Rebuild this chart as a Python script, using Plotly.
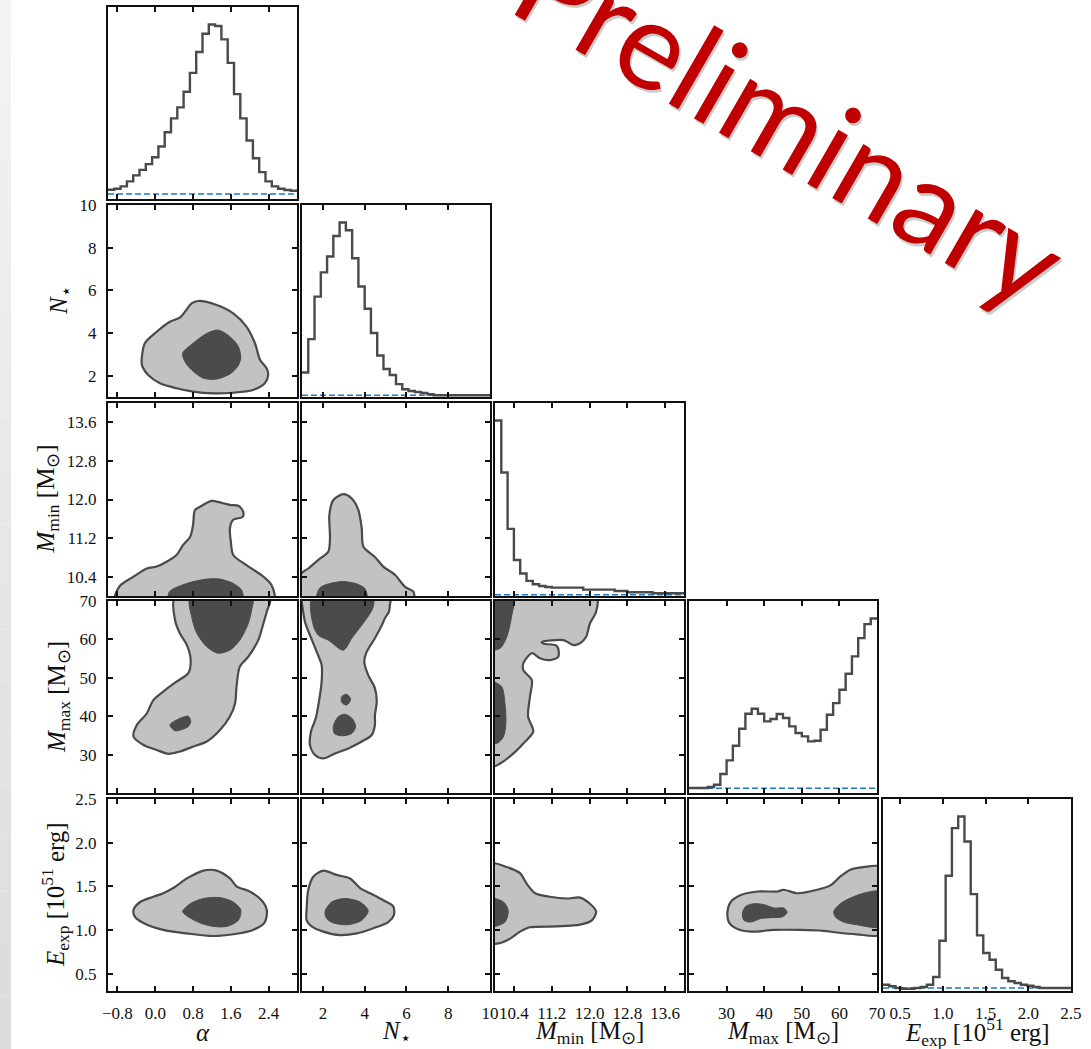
import plotly.graph_objects as go

W, H = 1091, 1049
SERIF = "Liberation Serif"

# ---------------- data ----------------
var_names = ["alpha", "nstar", "mmin", "mmax", "eexp"]
x_titles = ["<i>α</i>", "<i>N</i><sub>⋆</sub>", "<i>M</i><sub>min</sub> [M<sub>⊙</sub>]",
            "<i>M</i><sub>max</sub> [M<sub>⊙</sub>]", "<i>E</i><sub>exp</sub> [10<sup>51</sup> erg]"]

range_alpha = [-1.0, 3.0]
range_nstar = [1.0, 10.0001]
range_mmin = [10.0, 14.0]
range_mmax = [20.0, 70.0001]
range_eexp = [0.3, 2.5001]

ticks_alpha = [-0.8, 0.0, 0.8, 1.6, 2.4]
ticktext_alpha = ["−0.8", "0.0", "0.8", "1.6", "2.4"]
ticks_nstar = [2, 4, 6, 8, 10]
ticktext_nstar = ["2", "4", "6", "8", "10"]
ticks_mmin = [10.4, 11.2, 12.0, 12.8, 13.6]
ticktext_mmin = ["10.4", "11.2", "12.0", "12.8", "13.6"]
ticks_mmax = [30, 40, 50, 60, 70]
ticktext_mmax = ["30", "40", "50", "60", "70"]
ticks_eexp = [0.5, 1.0, 1.5, 2.0, 2.5]
ticktext_eexp = ["0.5", "1.0", "1.5", "2.0", "2.5"]

# marginal posteriors (30 bins each, arbitrary density units)
hist_alpha = [9.3, 10.3, 12.7, 17.7, 23.7, 29.3, 35.0, 42.0, 52.7, 67.0, 81.0, 92.0, 107.7, 126.7, 147.7,
              166.0, 175.3, 173.7, 160.3, 136.7, 105.3, 81.0, 58.7, 41.0, 27.0, 17.7, 12.7, 10.3, 9.0, 8.3]
hist_nstar = [24.3, 57.3, 99.3, 123.3, 139.0, 159.3, 172.7, 165.0, 137.3, 109.3, 87.3, 63.3, 41.0, 27.7, 21.7,
              12.7, 7.7, 6.0, 5.0, 4.0, 2.7, 1.7, 1.7, 1.7, 1.7, 1.7, 1.7, 1.7, 1.7, 1.7]
hist_mmin = [174.3, 122.7, 66.7, 35.7, 22.3, 15.0, 11.7, 10.0, 9.0, 8.3, 8.3, 8.3, 8.3, 8.3, 6.3,
             6.3, 6.3, 6.3, 6.3, 5.0, 5.0, 3.7, 3.7, 3.7, 3.7, 2.7, 2.7, 2.7, 2.7, 2.7]
hist_mmax = [5.0, 5.0, 5.0, 6.0, 8.3, 19.0, 32.7, 47.3, 64.3, 79.3, 84.3, 79.3, 71.7, 74.0, 79.0,
             75.0, 66.7, 60.0, 56.7, 51.7, 52.3, 63.3, 78.3, 90.0, 103.3, 119.3, 136.7, 155.0, 169.0, 174.7]
hist_eexp = [6.3, 4.7, 3.0, 2.3, 2.3, 3.0, 4.0, 6.3, 14.0, 50.3, 115.3, 163.0, 174.7, 149.7, 97.0,
             55.7, 38.0, 31.3, 21.3, 13.0, 9.7, 8.0, 6.3, 5.3, 4.0, 3.0, 3.0, 3.0, 3.0, 3.0]

# priors (same units)
prior_alpha = 5.0
prior_nstar = 1.7
prior_mmin = 1.3
prior_mmax = 4.7
prior_eexp = 3.0

# 2D credible regions: outer (light) and inner (dark) contours, in data units
c21_outer_x = [-0.29, -0.22, 0.03, 0.31, 0.52, 0.63, 0.77, 0.91, 1.30, 1.65, 1.93, 2.11, 2.22, 2.36, 2.39, 2.32,
               2.07, 1.65, 1.23, 0.80, 0.45, 0.10, -0.15, -0.27]
c21_outer_y = [2.65, 3.52, 4.06, 4.53, 4.72, 5.00, 5.39, 5.50, 5.31, 4.92, 4.30, 3.52, 2.73, 2.34, 2.03, 1.64,
               1.33, 1.20, 1.17, 1.25, 1.41, 1.64, 2.03, 2.42]
c21_inner_x = [0.58, 0.80, 1.09, 1.33, 1.58, 1.76, 1.81, 1.74, 1.58, 1.30, 1.02, 0.77, 0.63]
c21_inner_y = [3.05, 3.52, 3.98, 4.14, 3.83, 3.36, 2.81, 2.42, 2.08, 1.84, 1.88, 2.27, 2.65]

c31_outer_x = [-0.85, -0.75, -0.46, -0.18, 0.03, 0.24, 0.45, 0.59, 0.74, 0.80, 0.84, 0.95, 1.19, 1.37, 1.58,
               1.76, 1.86, 1.85, 1.65, 1.58, 1.60, 1.65, 1.93, 2.29, 2.46, 2.51]
c31_outer_y = [9.9, 10.21, 10.40, 10.57, 10.61, 10.71, 10.85, 11.06, 11.23, 11.47, 11.78, 11.85, 11.97, 11.94,
               11.89, 11.87, 11.75, 11.64, 11.58, 11.40, 11.13, 10.85, 10.64, 10.40, 10.23, 9.9]
c31_inner_x = [0.29, 0.30, 0.67, 1.09, 1.37, 1.65, 1.83, 1.84]
c31_inner_y = [9.9, 10.09, 10.26, 10.35, 10.35, 10.26, 10.12, 9.9]

c41_outer_x = [0.42, 0.42, 0.52, 0.67, 0.75, 0.70, 0.45, 0.21, -0.04, -0.18, -0.39, -0.46, -0.25, 0.03, 0.28,
               0.52, 0.81, 1.09, 1.37, 1.58, 1.69, 1.72, 1.79, 1.97, 2.18, 2.29, 2.36, 2.43]
c41_outer_y = [71.0, 65.0, 61.6, 58.5, 54.6, 51.2, 49.0, 46.8, 44.2, 40.7, 37.7, 34.7, 32.5, 31.2, 30.2,
               30.8, 32.1, 33.4, 36.4, 39.9, 43.4, 47.7, 52.9, 55.5, 59.8, 64.2, 67.2, 71.0]
c41_inner1_x = [0.74, 0.77, 0.88, 1.09, 1.33, 1.58, 1.79, 1.97, 2.04, 2.06]
c41_inner1_y = [71.0, 65.9, 61.6, 58.1, 56.4, 57.2, 59.8, 64.2, 67.7, 71.0]
c41_inner2_x = [0.31, 0.42, 0.70, 0.75, 0.70, 0.42]
c41_inner2_y = [37.7, 38.8, 40.0, 38.6, 37.3, 36.2]

c51_outer_x = [-0.46, -0.32, -0.04, 0.17, 0.38, 0.67, 1.02, 1.30, 1.58, 1.72, 2.00, 2.25, 2.36, 2.32, 2.07,
               1.65, 1.23, 0.67, 0.17, -0.25, -0.43]
c51_outer_y = [1.23, 1.32, 1.38, 1.42, 1.48, 1.59, 1.68, 1.68, 1.59, 1.50, 1.44, 1.34, 1.23, 1.09, 1.00,
               0.95, 0.93, 0.96, 1.00, 1.08, 1.15]
c51_inner_x = [0.58, 0.74, 1.02, 1.37, 1.65, 1.81, 1.76, 1.51, 1.23, 0.95, 0.70]
c51_inner_y = [1.21, 1.30, 1.36, 1.37, 1.32, 1.23, 1.11, 1.04, 1.04, 1.08, 1.15]

c32_outer_x = [0.9, 1.30, 1.78, 2.26, 2.34, 2.31, 2.50, 2.98, 3.38, 3.70, 3.86, 3.94, 4.49, 4.89, 5.45, 5.93,
               6.33, 6.33, 0.9]
c32_outer_y = [10.44, 10.57, 10.75, 10.92, 11.20, 11.68, 11.99, 12.11, 12.02, 11.78, 11.40, 11.02, 10.81,
               10.61, 10.44, 10.19, 10.09, 9.9, 9.9]
c32_inner_x = [1.70, 1.86, 2.26, 2.98, 3.62, 4.02, 4.10]
c32_inner_y = [9.9, 10.17, 10.25, 10.30, 10.25, 10.15, 9.9]

c42_outer_x = [0.9, 0.98, 1.14, 1.38, 1.70, 1.94, 1.94, 1.81, 1.66, 1.43, 1.38, 1.62, 2.02, 2.58, 3.22, 3.86,
               4.34, 4.49, 4.49, 4.58, 4.49, 4.17, 3.98, 4.10, 4.49, 4.82, 4.97, 5.16, 5.21, 5.21]
c42_outer_y = [71.0, 69.8, 64.6, 61.1, 56.8, 53.3, 49.0, 43.8, 39.5, 36.0, 32.5, 29.9, 29.0, 30.3, 31.6, 33.4,
               35.1, 37.7, 40.3, 43.8, 47.3, 50.7, 54.2, 56.8, 60.3, 63.7, 65.5, 67.2, 69.0, 71.0]
c42_inner1_x = [1.49, 1.54, 1.78, 2.26, 2.98, 3.38, 3.86, 4.26, 4.41, 4.41]
c42_inner1_y = [71.0, 63.7, 61.1, 59.8, 57.2, 60.3, 63.7, 66.8, 68.5, 71.0]
c42_inner2_x = [2.90, 3.14, 3.33, 3.14, 2.90]
c42_inner2_y = [45.1, 45.7, 44.4, 42.9, 43.6]
c42_inner3_x = [2.50, 2.74, 3.06, 3.38, 3.57, 3.38, 2.90, 2.55]
c42_inner3_y = [37.3, 39.9, 40.5, 39.5, 37.3, 35.5, 34.9, 35.5]

c52_outer_x = [1.22, 1.30, 1.54, 2.02, 2.66, 3.30, 3.78, 4.26, 4.89, 5.37, 5.40, 5.13, 4.41, 3.62, 2.82, 2.02,
               1.46, 1.22]
c52_outer_y = [1.23, 1.46, 1.61, 1.68, 1.63, 1.59, 1.48, 1.42, 1.34, 1.27, 1.17, 1.09, 1.02, 0.96, 0.94, 0.98,
               1.04, 1.11]
c52_inner_x = [2.10, 2.42, 3.06, 3.78, 4.17, 3.86, 3.22, 2.50, 2.18]
c52_inner_y = [1.21, 1.32, 1.36, 1.32, 1.22, 1.11, 1.06, 1.08, 1.13]

c43_outer_x = [9.9, 12.15, 12.14, 12.01, 11.93, 11.80, 11.66, 11.45, 10.99, 11.02, 11.31, 11.34, 11.16, 10.95,
               10.78, 10.60, 10.60, 10.78, 10.74, 10.70, 10.81, 10.60, 10.39, 10.11, 9.9]
c43_outer_y = [71.0, 71.0, 67.2, 64.2, 60.7, 59.0, 58.5, 59.8, 59.3, 58.9, 58.3, 55.5, 54.6, 55.1,
               56.4, 53.8, 52.0, 49.4, 45.1, 39.9, 36.0, 32.9, 30.3, 27.7, 26.8]
c43_inner1_x = [9.9, 10.39, 10.35, 10.25, 10.11, 9.9]
c43_inner1_y = [71.0, 71.0, 65.9, 60.7, 57.7, 57.4]
c43_inner2_x = [9.9, 10.14, 10.21, 10.23, 10.18, 10.07, 9.9]
c43_inner2_y = [49.0, 47.7, 43.4, 38.1, 34.7, 33.1, 32.9]

c53_outer_x = [9.9, 10.25, 10.53, 10.67, 10.85, 11.16, 11.52, 11.80, 12.01, 12.14, 12.05, 11.80, 11.31, 10.74,
               10.53, 10.32, 10.11, 9.9]
c53_outer_y = [1.76, 1.72, 1.65, 1.53, 1.42, 1.38, 1.36, 1.37, 1.30, 1.21, 1.11, 1.06, 1.04, 1.03,
               0.98, 0.90, 0.85, 0.85]
c53_inner_x = [9.9, 10.18, 10.28, 10.21, 9.9]
c53_inner_y = [1.36, 1.32, 1.22, 1.09, 1.04]

c54_outer_x = [30.2, 31.1, 33.8, 38.2, 43.5, 45.2, 48.8, 54.1, 57.6, 60.2, 62.9, 66.4, 71.0, 71.0, 64.6, 59.3,
               55.8, 49.6, 42.6, 36.4, 32.9, 30.7]
c54_outer_y = [1.19, 1.32, 1.40, 1.44, 1.44, 1.46, 1.42, 1.46, 1.51, 1.61, 1.69, 1.72, 1.72, 0.95, 0.95, 0.97,
               0.99, 1.00, 1.00, 0.98, 1.01, 1.08]
c54_inner1_x = [34.2, 35.1, 37.3, 39.9, 42.6, 45.2, 46.1, 44.8, 41.7, 39.1, 36.4, 34.6]
c54_inner1_y = [1.19, 1.27, 1.30, 1.29, 1.25, 1.25, 1.20, 1.15, 1.14, 1.13, 1.09, 1.11]
c54_inner2_x = [58.5, 60.2, 63.7, 67.3, 71.0, 71.0, 64.6, 61.1, 58.9]
c54_inner2_y = [1.21, 1.30, 1.38, 1.43, 1.44, 1.04, 1.06, 1.09, 1.15]

# ---------------- assembly ----------------
ranges = [range_alpha, range_nstar, range_mmin, range_mmax, range_eexp]
tickv = [ticks_alpha, ticks_nstar, ticks_mmin, ticks_mmax, ticks_eexp]
tickt = [ticktext_alpha, ticktext_nstar, ticktext_mmin, ticktext_mmax, ticktext_eexp]
hists = [hist_alpha, hist_nstar, hist_mmin, hist_mmax, hist_eexp]
priors = [prior_alpha, prior_nstar, prior_mmin, prior_mmax, prior_eexp]
hist_lo = [-1.0, 1.0, 10.0, 20.0, 0.3]
hist_hi = [3.0, 10.0, 14.0, 70.0, 2.5]

contours = {
    (1, 0): ((c21_outer_x, c21_outer_y), [(c21_inner_x, c21_inner_y)]),
    (2, 0): ((c31_outer_x, c31_outer_y), [(c31_inner_x, c31_inner_y)]),
    (3, 0): ((c41_outer_x, c41_outer_y), [(c41_inner1_x, c41_inner1_y), (c41_inner2_x, c41_inner2_y)]),
    (4, 0): ((c51_outer_x, c51_outer_y), [(c51_inner_x, c51_inner_y)]),
    (2, 1): ((c32_outer_x, c32_outer_y), [(c32_inner_x, c32_inner_y)]),
    (3, 1): ((c42_outer_x, c42_outer_y), [(c42_inner1_x, c42_inner1_y), (c42_inner2_x, c42_inner2_y),
                                          (c42_inner3_x, c42_inner3_y)]),
    (4, 1): ((c52_outer_x, c52_outer_y), [(c52_inner_x, c52_inner_y)]),
    (3, 2): ((c43_outer_x, c43_outer_y), [(c43_inner1_x, c43_inner1_y), (c43_inner2_x, c43_inner2_y)]),
    (4, 2): ((c53_outer_x, c53_outer_y), [(c53_inner_x, c53_inner_y)]),
    (4, 3): ((c54_outer_x, c54_outer_y), [(c54_inner1_x, c54_inner1_y), (c54_inner2_x, c54_inner2_y)]),
}

col_x0 = [108, 302, 495, 689, 883]
col_x1 = [297, 490, 684, 877, 1071]
row_y0 = [7, 205, 403, 601, 799]
row_y1 = [199, 397, 596, 793, 991]

LINE = "#4a4a4a"
LIGHT = "#c2c2c2"
DARK = "#4b4b4b"
FRAME = "#111111"
BLUE = "#1f78c1"

fig = go.Figure()
layout = dict(template="none", width=W, height=H, margin=dict(l=0, r=0, t=0, b=0, pad=0, autoexpand=False),
              paper_bgcolor="white", plot_bgcolor="white", showlegend=False)

k = 0
for i in range(5):
    for j in range(i + 1):
        k += 1
        xr = "x" if k == 1 else f"x{k}"
        yr = "y" if k == 1 else f"y{k}"
        xa = "xaxis" if k == 1 else f"xaxis{k}"
        ya = "yaxis" if k == 1 else f"yaxis{k}"
        common = dict(showline=True, linecolor=FRAME, linewidth=2, showgrid=False, zeroline=False,
                      automargin=False, ticks="inside", ticklen=5, tickwidth=1.5, tickcolor=FRAME,
                      tickfont=dict(family=SERIF, size=17, color="#111"), ticklabelstandoff=6)
        layout[xa] = dict(common, domain=[col_x0[j] / W, col_x1[j] / W], anchor=yr, range=ranges[j],
                          tickmode="array", tickvals=tickv[j], ticktext=tickt[j], mirror="ticks",
                          showticklabels=(i == 4))
        if i == j:
            hmax = max(hists[i])
            layout[ya] = dict(common, domain=[1 - row_y1[i] / H, 1 - row_y0[i] / H], anchor=xr,
                              range=[0, 1.1 * hmax], ticks="", mirror=True, showticklabels=False)
            n = len(hists[i])
            edges = [hist_lo[i] + (hist_hi[i] - hist_lo[i]) * m / n for m in range(n + 1)]
            fig.add_trace(go.Scatter(x=[hist_lo[i], hist_hi[i]], y=[priors[i], priors[i]], mode="lines",
                                     line=dict(color=BLUE, width=1.6, dash="6px,3px"),
                                     xaxis=xr, yaxis=yr, hoverinfo="skip"))
            fig.add_trace(go.Scatter(x=edges, y=hists[i] + [hists[i][-1]], mode="lines",
                                     line=dict(color=LINE, width=2.4, shape="hv"),
                                     xaxis=xr, yaxis=yr, hoverinfo="skip"))
        else:
            layout[ya] = dict(common, domain=[1 - row_y1[i] / H, 1 - row_y0[i] / H], anchor=xr,
                              range=ranges[i], tickmode="array", tickvals=tickv[i], ticktext=tickt[i],
                              mirror="ticks", showticklabels=(j == 0))
            (ox, oy), inners = contours[(i, j)]
            fig.add_trace(go.Scatter(x=ox + [ox[0]], y=oy + [oy[0]], mode="lines", fill="toself",
                                     fillcolor=LIGHT, line=dict(color=LINE, width=2.2, shape="spline",
                                                                smoothing=0.8),
                                     xaxis=xr, yaxis=yr, hoverinfo="skip"))
            for (ix, iy) in inners:
                fig.add_trace(go.Scatter(x=ix + [ix[0]], y=iy + [iy[0]], mode="lines", fill="toself",
                                         fillcolor=DARK, line=dict(color=DARK, width=1, shape="spline",
                                                                   smoothing=0.8),
                                         xaxis=xr, yaxis=yr, hoverinfo="skip"))

annotations = []
# bottom axis titles
for j in range(5):
    annotations.append(dict(text=x_titles[j], x=(col_x0[j] + col_x1[j]) / 2 / W, y=1 - 1032 / H,
                            xref="paper", yref="paper", xanchor="center", yanchor="middle",
                            showarrow=False, font=dict(family=SERIF, size=25, color="#111")))
# left axis titles
ytitle_x = [60, 47, 58, 55]
for r in range(1, 5):
    annotations.append(dict(text=x_titles[r], x=ytitle_x[r - 1] / W, y=1 - (row_y0[r] + row_y1[r]) / 2 / H,
                            xref="paper", yref="paper", xanchor="center", yanchor="middle", textangle=-90,
                            showarrow=False, font=dict(family=SERIF, size=25, color="#111")))
# watermark
annotations.append(dict(text="Preliminary", x=793 / W, y=1 - 122 / H, xref="paper", yref="paper",
                        xanchor="center", yanchor="middle", textangle=30, showarrow=False,
                        font=dict(family="Lato", size=123, color="rgba(0,0,0,0.2)")))
annotations.append(dict(text="Preliminary", x=791 / W, y=1 - 120 / H, xref="paper", yref="paper",
                        xanchor="center", yanchor="middle", textangle=30, showarrow=False,
                        font=dict(family="Lato", size=123, color="#c00000")))
layout["annotations"] = annotations

# left grey strip (slide background)
shapes = []
nseg = 20
for s in range(nseg):
    t = s / (nseg - 1)
    g = int(round(243 - t * (243 - 220)))
    shapes.append(dict(type="rect", xref="paper", yref="paper", x0=0, x1=11 / W,
                       y0=1 - (s + 1) / nseg, y1=1 - s / nseg, fillcolor=f"rgb({g},{g},{g})",
                       line=dict(width=0), layer="below"))
layout["shapes"] = shapes

fig.update_layout(**layout)
fig.write_html("out.html")
